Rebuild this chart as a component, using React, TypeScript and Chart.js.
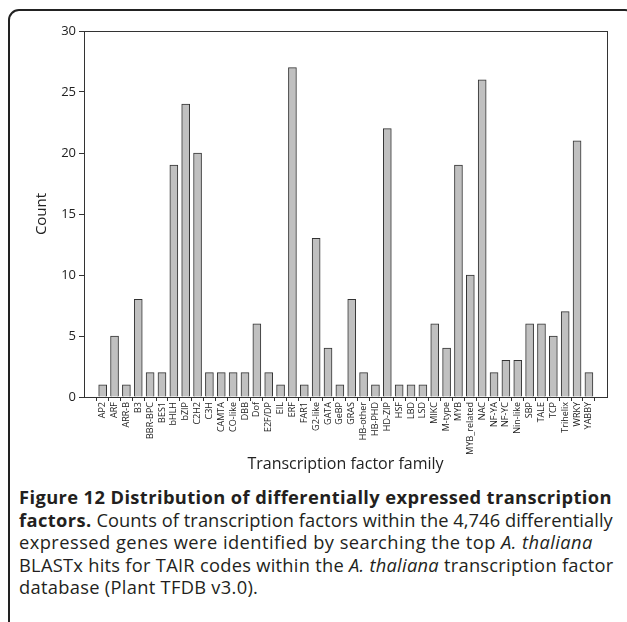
import React, { useEffect, useRef } from "react";
import { Chart, registerables } from "chart.js";
Chart.register(...registerables);

const categories = [
  "AP2", "ARF", "ARR-B", "B3", "BBR-BPC", "BES1", "bHLH", "bZIP", "C2H2", "C3H",
  "CAMTA", "CO-like", "DBB", "Dof", "E2F/DP", "EIL", "ERF", "FAR1", "G2-like", "GATA",
  "GeBP", "GRAS", "HB-other", "HB-PHD", "HD-ZIP", "HSF", "LBD", "LSD", "MIKC", "M-type",
  "MYB", "MYB_related", "NAC", "NF-YA", "NF-YC", "Nin-like", "SBP", "TALE", "TCP", "Trihelix",
  "WRKY", "YABBY",
];
const counts = [
  1, 5, 1, 8, 2, 2, 19, 24, 20, 2,
  2, 2, 2, 6, 2, 1, 27, 1, 13, 4,
  1, 8, 2, 1, 22, 1, 1, 1, 6, 4,
  19, 10, 26, 2, 3, 3, 6, 6, 5, 7,
  21, 2,
];
const yTicks = [0, 5, 10, 15, 20, 25, 30];
const xTitle = "Transcription factor family";
const yTitle = "Count";

const FONT = "'Open Sans', 'Noto Sans', sans-serif";

export default function App() {
  const ref = useRef<HTMLCanvasElement | null>(null);

  useEffect(() => {
    if (!ref.current) return;
    const boxPlugin = {
      id: "plotBox",
      afterDraw(chart: any) {
        const { ctx, chartArea: a } = chart;
        ctx.save();
        ctx.strokeStyle = "#333";
        ctx.lineWidth = 1;
        ctx.strokeRect(Math.round(a.left) + 0.5, Math.round(a.top) + 0.5, Math.round(a.right - a.left), Math.round(a.bottom - a.top));
        ctx.restore();
      },
    };
    const chart = new Chart(ref.current, {
      type: "bar",
      data: {
        datasets: [
          {
            data: counts.map((v, i) => ({ x: i, y: v })),
            backgroundColor: "#c0c0c0",
            borderColor: "#333",
            borderWidth: 1,
            barThickness: 8,
          },
        ],
      },
      options: {
        animation: false,
        responsive: false,
        layout: { padding: { left: 0, top: 31, right: 20, bottom: 0 } },
        plugins: { legend: { display: false }, tooltip: { enabled: false } },
        scales: {
          x: {
            type: "linear",
            min: -1.05,
            max: 42,
            afterBuildTicks: (s: any) => {
              s.ticks = categories.map((_, i) => ({ value: i }));
            },
            afterFit: (s: any) => {
              s.height = 83;
            },
            ticks: {
              autoSkip: false,
              maxRotation: 90,
              minRotation: 90,
              callback: (v: any) => categories[v as number],
              font: { size: 9, family: FONT },
              color: "#222",
              padding: 1,
            },
            grid: { drawOnChartArea: false, tickLength: 4, color: "#333" },
            border: { color: "#333" },
            title: {
              display: true,
              text: xTitle,
              font: { size: 16, family: FONT },
              color: "#222",
              padding: { top: 0, bottom: 6.4 },
            },
          },
          y: {
            min: 0,
            max: 30,
            afterBuildTicks: (s: any) => {
              s.ticks = yTicks.map((v) => ({ value: v }));
            },
            afterFit: (s: any) => {
              s.width = 84;
            },
            ticks: { font: { size: 13, family: FONT }, color: "#222", padding: 3 },
            grid: { drawOnChartArea: false, tickLength: 5, color: "#333" },
            border: { color: "#333" },
            title: {
              display: true,
              text: yTitle,
              font: { size: 15, family: FONT },
              color: "#222",
              padding: { top: 32.5, bottom: 0 },
            },
          },
        },
      },
      plugins: [boxPlugin],
    } as any);
    return () => chart.destroy();
  }, []);

  const boldStyle = { fontWeight: 700, letterSpacing: "0.4px" } as const;
  const line = (ls: number) => ({ display: "block", letterSpacing: `${ls}px` }) as const;

  return (
    <div
      style={{
        position: "fixed",
        left: 0,
        top: 0,
        width: 627,
        height: 622,
        overflow: "hidden",
        background: "#fff",
      }}
    >
      <div
        style={{
          position: "absolute",
          left: 8,
          top: 9,
          width: 628,
          height: 700,
          border: "2px solid #222",
          borderRadius: 11,
          boxSizing: "border-box",
        }}
      />
      <canvas
        ref={ref}
        width={627}
        height={480}
        style={{ position: "absolute", left: 0, top: 0, width: 627, height: 480 }}
      />
      <div
        style={{
          position: "absolute",
          left: 19,
          top: 486,
          fontFamily: FONT,
          fontSize: 18.3,
          lineHeight: "22.5px",
          color: "#231f20",
          whiteSpace: "nowrap",
        }}
      >
        <span style={line(0)}>
          <span style={boldStyle}>Figure 12 Distribution of differentially expressed transcription</span>
        </span>
        <span style={line(0.06)}>
          <span style={boldStyle}>factors.</span> Counts of transcription factors within the 4,746 differentially
        </span>
        <span style={line(0.45)}>
          expressed genes were identified by searching the top <i>A. thaliana</i>
        </span>
        <span style={line(0.27)}>
          BLASTx hits for TAIR codes within the <i>A. thaliana</i> transcription factor
        </span>
        <span style={line(0.3)}>database (Plant TFDB v3.0).</span>
      </div>
    </div>
  );
}
